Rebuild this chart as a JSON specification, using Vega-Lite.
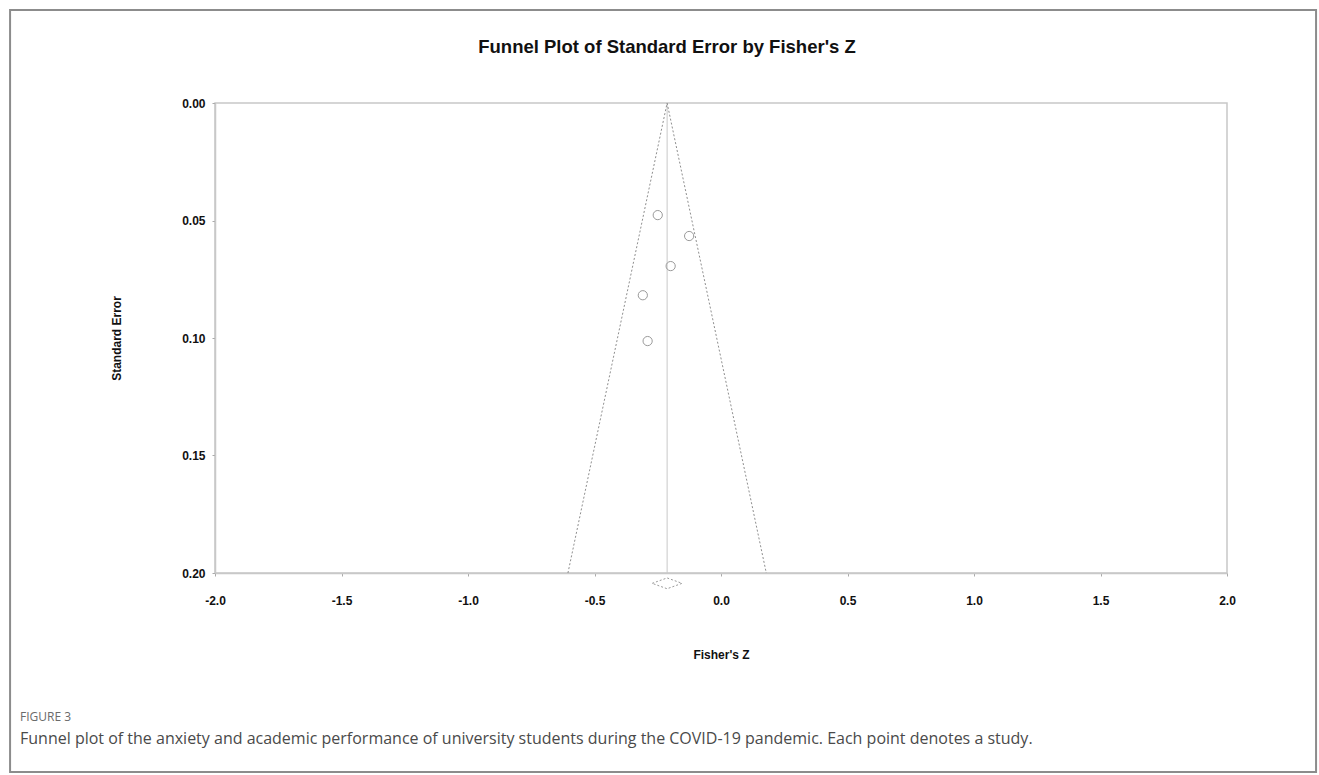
{
  "$schema": "https://vega.github.io/schema/vega-lite/v6.json",
  "autosize": "none",
  "padding": {"left": 215, "top": 103, "right": 1104, "bottom": 672},
  "background": "white",
  "title": {
    "text": "FIGURE 3",
    "subtitle": "Funnel plot of the anxiety and academic performance of university students during the COVID-19 pandemic. Each point denotes a study.",
    "orient": "bottom",
    "anchor": "start",
    "frame": "group",
    "dx": -195,
    "offset": -62,
    "font": "Open Sans",
    "fontSize": 12,
    "fontWeight": "normal",
    "color": "#6a6a6a",
    "subtitleFont": "Open Sans",
    "subtitleFontSize": 16,
    "subtitleColor": "#4a4a4a",
    "subtitlePadding": 7
  },
  "datasets": {
    "studies": [
      {"z": -0.250, "se": 0.0477},
      {"z": -0.126, "se": 0.0566},
      {"z": -0.199, "se": 0.0694},
      {"z": -0.309, "se": 0.0818},
      {"z": -0.290, "se": 0.1013}
    ],
    "funnel": [
      {"side": "L", "z": -0.213, "se": 0},
      {"side": "L", "z": -0.605, "se": 0.2},
      {"side": "R", "z": -0.213, "se": 0},
      {"side": "R", "z": 0.179, "se": 0.2}
    ],
    "pooled": [{"z": -0.213, "se": 0, "se2": 0.2}],
    "diamond": [
      {"o": 1, "z": -0.272, "se": 0.2044},
      {"o": 2, "z": -0.213, "se": 0.2021},
      {"o": 3, "z": -0.154, "se": 0.2044},
      {"o": 4, "z": -0.213, "se": 0.2067},
      {"o": 5, "z": -0.272, "se": 0.2044}
    ],
    "border": [{"label": "page"}]
  },
  "vconcat": [
    {
      "width": 1012,
      "height": 470,
      "title": {
        "text": "Funnel Plot of Standard Error by Fisher's Z",
        "anchor": "middle",
        "frame": "group",
        "dx": -54,
        "offset": -48,
        "font": "Liberation Sans",
        "fontSize": 18.5,
        "fontWeight": "bold",
        "color": "#111111"
      },
      "layer": [
        {
          "data": {"name": "border"},
          "mark": {"type": "rect", "fill": "transparent", "stroke": "#8c8c8c", "strokeWidth": 2, "clip": false},
          "encoding": {
            "x": {"datum": -2.81, "type": "quantitative", "scale": {"domain": [-2, 2], "nice": false, "zero": false}},
            "x2": {"datum": 2.352},
            "y": {"datum": -0.0396, "type": "quantitative", "scale": {"domain": [0, 0.2], "nice": false, "zero": false, "reverse": true}},
            "y2": {"datum": 0.2847}
          }
        },
        {
          "data": {"name": "pooled"},
          "mark": {"type": "rule", "color": "#c8c8c8", "strokeWidth": 1},
          "encoding": {
            "x": {"field": "z", "type": "quantitative"},
            "y": {"field": "se", "type": "quantitative"},
            "y2": {"field": "se2"}
          }
        },
        {
          "data": {"name": "funnel"},
          "mark": {"type": "line", "color": "#8f8f8f", "strokeDash": [2, 2], "strokeWidth": 1},
          "encoding": {
            "x": {"field": "z", "type": "quantitative"},
            "y": {"field": "se", "type": "quantitative"},
            "detail": {"field": "side"}
          }
        },
        {
          "data": {"name": "diamond"},
          "mark": {"type": "line", "color": "#9a9a9a", "strokeDash": [2, 2], "strokeWidth": 1, "clip": false},
          "encoding": {
            "x": {"field": "z", "type": "quantitative"},
            "y": {"field": "se", "type": "quantitative"},
            "order": {"field": "o", "type": "quantitative"}
          }
        },
        {
          "data": {"name": "studies"},
          "mark": {"type": "point", "shape": "circle", "filled": false, "stroke": "#9a9a9a", "strokeWidth": 1, "size": 85, "opacity": 1},
          "encoding": {
            "x": {
              "field": "z",
              "type": "quantitative",
              "axis": {
                "title": "Fisher's Z",
                "values": [-2, -1.5, -1, -0.5, 0, 0.5, 1, 1.5, 2],
                "labelExpr": "(datum.value < 0 ? '-' : '') + format(abs(datum.value), '.1f')",
                "labelFlush": false,
                "labelPadding": 19,
                "titlePadding": 43
              }
            },
            "y": {
              "field": "se",
              "type": "quantitative",
              "axis": {
                "title": "Standard Error",
                "values": [0, 0.05, 0.1, 0.15, 0.2],
                "format": ".2f",
                "labelFlush": false,
                "labelPadding": 7,
                "titlePadding": 58
              }
            }
          }
        }
      ]
    }
  ],
  "config": {
    "view": {"stroke": "#c8c8c8", "strokeWidth": 1.5},
    "axis": {
      "grid": false,
      "labelFont": "Liberation Sans",
      "labelFontWeight": "bold",
      "labelFontSize": 12,
      "labelColor": "#111111",
      "titleFont": "Liberation Sans",
      "titleFontWeight": "bold",
      "titleFontSize": 12,
      "titleColor": "#111111",
      "domainColor": "#c8c8c8",
      "domainWidth": 1.5,
      "tickColor": "#aaaaaa",
      "tickSize": 3
    }
  }
}
